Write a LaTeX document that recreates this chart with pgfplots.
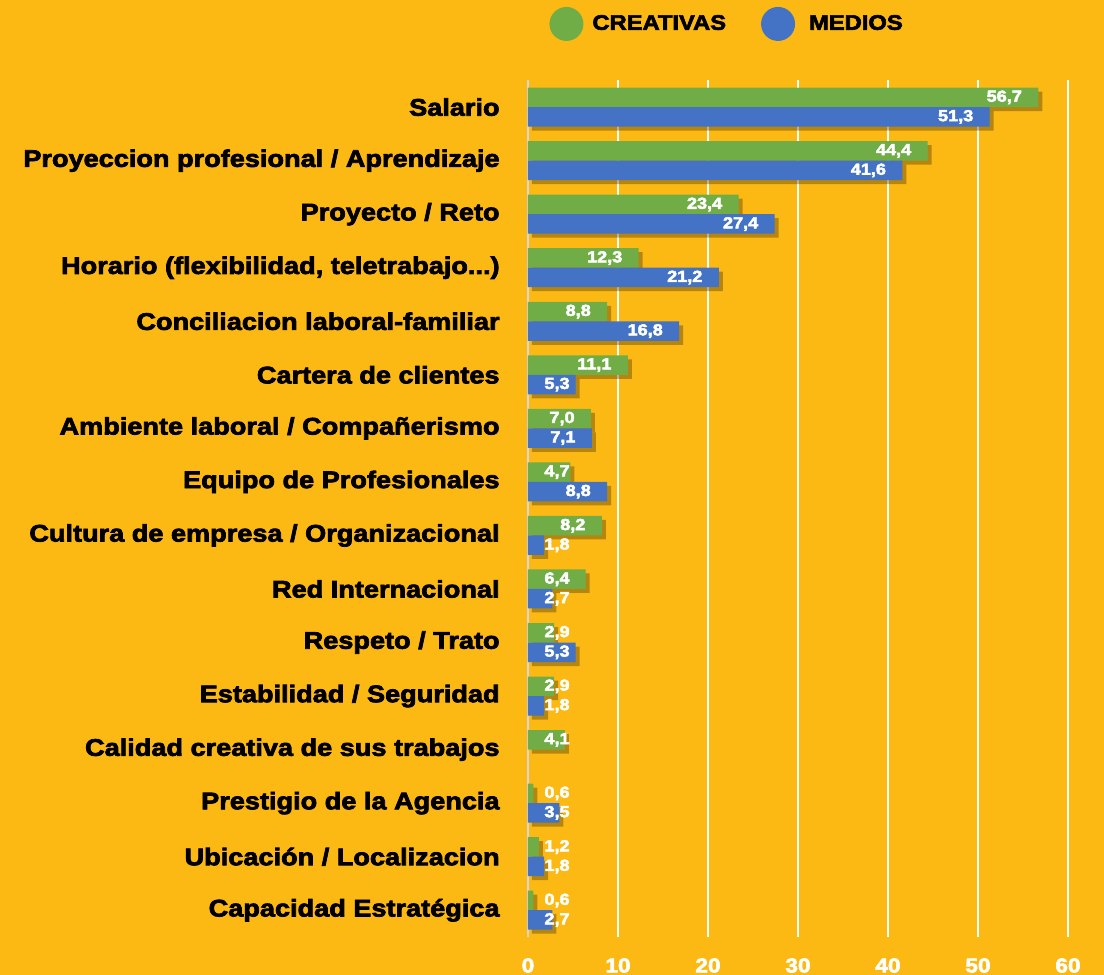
\documentclass[border=0pt]{standalone}
\usepackage{fontspec}
\setmainfont{Liberation Sans}[FakeStretch=1.13, BoldFont={Liberation Sans Bold}, BoldFeatures={FakeStretch=1.13, FakeBold=3}]
\usepackage{pgfplots}
\pgfplotsset{compat=1.18}
\definecolor{bg}{RGB}{253,185,19}
\definecolor{cgreen}{RGB}{112,173,71}
\definecolor{cblue}{RGB}{68,114,196}
\definecolor{axgray}{RGB}{215,215,215}
\newcommand{\tdots}{.\kern0pt.\kern0pt.}
\begin{document}
\begin{tikzpicture}
\path[use as bounding box, fill=bg] (-264pt,-19pt) rectangle (288pt,468.5pt);
\begin{axis}[
  at={(0,0)}, anchor=south west,
  x=4.5pt, y=26.77pt,
  xmin=0, xmax=60, ymin=-0.5, ymax=15.5,
  xbar, bar width=9.75pt,
  axis lines*=left,
  x axis line style={draw=none},
  y axis line style={draw=axgray, line width=1pt},
  xtick={0,10,...,60},
  ytick={0,...,15},
  yticklabels={Capacidad Estratégica, Ubicación / Localizacion, Prestigio de la Agencia, Calidad creativa de sus trabajos, Estabilidad / Seguridad, Respeto / Trato, Red Internacional, Cultura de empresa / Organizacional, Equipo de Profesionales, Ambiente laboral / Compañerismo, Cartera de clientes, Conciliacion laboral-familiar, {Horario (flexibilidad, teletrabajo\tdots)}, Proyecto / Reto, Proyeccion profesional / Aprendizaje, Salario},
  major tick length=0pt,
  xmajorgrids,
  major grid style={white, line width=1pt},
  yticklabel style={font=\bfseries\fontsize{12}{14}\selectfont, text=black, anchor=east, inner sep=0pt, xshift=-14pt},
  xticklabel style={font=\bfseries\fontsize{10}{12}\selectfont, text=white, inner sep=0pt, anchor=north, yshift=-10.5pt},
  /pgf/number format/assume math mode=true,
  point meta=x,
  nodes near coords,
  visualization depends on={rawx \as \rawx},
  every node near coord/.append style={font=\bfseries\fontsize{8}{10}\selectfont, text=white, anchor=east, inner sep=0pt, xshift={max(-8,21-4.5*\rawx)*1pt}},
  nodes near coords={\pgfmathprintnumber[fixed, fixed zerofill, precision=1, use comma, assume math mode=true]{\pgfplotspointmeta}},
  legend columns=2,
  legend style={at={(0.039,1)}, anchor=south west, yshift=19.5pt, draw=none, fill=none, inner sep=0pt, column sep=0pt, nodes={inner sep=0pt, font=\bfseries\fontsize{10.5}{12}\selectfont}},
]
\addlegendimage{legend image code/.code={\fill[cgreen, draw=none] (8.5pt,0pt) circle (8.5pt); \path[draw=none, fill=none] (21.5pt,0) circle (0.01pt);}}
\addlegendentry{CREATIVAS\hspace*{17.5pt}}
\addlegendimage{legend image code/.code={\fill[cblue, draw=none] (8.5pt,0pt) circle (8.5pt); \path[draw=none, fill=none] (24pt,0) circle (0.01pt);}}
\addlegendentry{MEDIOS}
\addplot[forget plot, fill=cgreen, draw=none, bar shift=4.875pt,
  preaction={fill=black!80!bg, fill opacity=0.35, transform canvas={xshift=2pt,yshift=-2pt}}]
  table {
x y
56.7 15
44.4 14
23.4 13
12.3 12
8.8 11
11.1 10
7.0 9
4.7 8
8.2 7
6.4 6
2.9 5
2.9 4
4.1 3
0.6 2
1.2 1
0.6 0
};
\addplot[forget plot, fill=cblue, draw=none, bar shift=-4.875pt,
  preaction={fill=black!80!bg, fill opacity=0.35, transform canvas={xshift=2pt,yshift=-2pt}}]
  table {
x y
51.3 15
41.6 14
27.4 13
21.2 12
16.8 11
5.3 10
7.1 9
8.8 8
1.8 7
2.7 6
5.3 5
1.8 4
3.5 2
1.8 1
2.7 0
};
\end{axis}
\end{tikzpicture}
\end{document}
